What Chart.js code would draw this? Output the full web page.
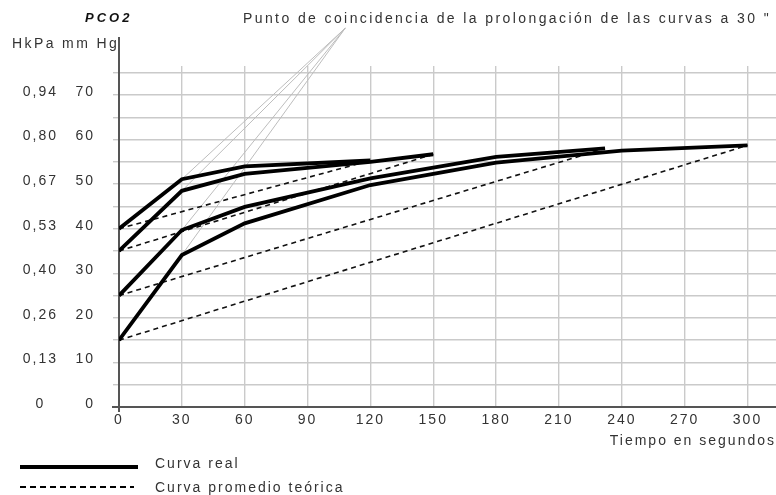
<!DOCTYPE html>
<html>
<head>
<meta charset="utf-8">
<script src="https://cdn.jsdelivr.net/npm/chart.js@4.4.1/dist/chart.umd.min.js"></script>
<style>
html,body{margin:0;padding:0;background:#fff;}
#wrap{position:relative;width:776px;height:495px;overflow:hidden;font-family:"Liberation Sans",Arial,sans-serif;color:#333;}
canvas{position:absolute;left:0;top:0;}
.t{position:absolute;white-space:nowrap;font-size:14px;line-height:16px;letter-spacing:2px;}
.solid{position:absolute;left:20px;top:465px;width:118px;height:4px;background:#000;}
.dash{position:absolute;left:20px;top:486px;width:114px;height:2px;background:repeating-linear-gradient(to right,#000 0 6px,transparent 6px 10px);}
</style>
</head>
<body>
<div id="wrap">
<canvas id="c" width="776" height="495"></canvas>
<div class="t" style="left:85px;top:10px;font-weight:bold;font-style:italic;font-size:13px;letter-spacing:3px;color:#111">PCO2</div>
<div class="t" style="left:12px;top:35px;letter-spacing:2.4px">HkPa mm Hg</div>
<div class="t" style="left:243px;top:10px;letter-spacing:2.4px">Punto de coincidencia de la prolongación de las curvas a 30 "</div>
<div class="solid"></div>
<div class="t" style="left:155px;top:455px">Curva real</div>
<div class="dash"></div>
<div class="t" style="left:155px;top:479px">Curva promedio teórica</div>
</div>
<script>
// ---- data ----
const timeA = [0, 30, 60, 120];
const pco2A = [40, 51.1, 54.0, 55.3];
const timeB = [0, 30, 60, 120, 150];
const pco2B = [35, 48.5, 52.3, 55.0, 56.7];
const timeC = [0, 30, 60, 120, 180, 232];
const pco2C = [25, 39.7, 44.9, 51.3, 56.1, 58.0];
const timeD = [0, 30, 60, 120, 180, 240, 300];
const pco2D = [15, 34.1, 41.2, 49.8, 54.8, 57.5, 58.7];
const mmHgTicks = [0, 10, 20, 30, 40, 50, 60, 70];
const kPaLabels = ['0', '0,13', '0,26', '0,40', '0,53', '0,67', '0,80', '0,94'];
const timeTicks = [0, 30, 60, 90, 120, 150, 180, 210, 240, 270, 300];
const convT = 108;   // coincidence point of the 30 s prolongations (time)
const convV = 85;    // coincidence point (mm Hg)

const curves = [[timeA, pco2A], [timeB, pco2B], [timeC, pco2C], [timeD, pco2D]];
const pts = (t, v) => t.map((x, i) => ({x: x, y: v[i]}));

const datasets = [];
// gray prolongation lines (from 30 s point to coincidence point)
curves.forEach(([t, v]) => {
  const i = t.indexOf(30);
  datasets.push({data: [{x: t[i], y: v[i]}, {x: convT, y: convV}], borderColor: '#bdbdbd', borderWidth: 1, pointRadius: 0, clip: false, order: 3});
});
// dashed theoretical average lines
curves.forEach(([t, v]) => {
  const n = t.length - 1;
  datasets.push({data: [{x: t[0], y: v[0]}, {x: t[n], y: v[n]}], borderColor: '#111', borderWidth: 1.6, borderDash: [5, 4], pointRadius: 0, order: 2});
});
// real curves
curves.forEach(([t, v]) => {
  datasets.push({data: pts(t, v), borderColor: '#000', borderWidth: 3.8, pointRadius: 0, tension: 0, order: 1});
});

Chart.defaults.font.family = '"Liberation Sans", Arial, sans-serif';
Chart.defaults.font.size = 14;
Chart.defaults.color = '#333';

const spacing = {
  id: 'spacing',
  beforeLayout(c) { c.ctx.letterSpacing = '2px'; },
  beforeDraw(c) { c.ctx.letterSpacing = '2px'; }
};
const axisExt = {
  id: 'axisExt',
  beforeDatasetsDraw(c) {
    const {ctx, chartArea: a, scales: {y}} = c;
    ctx.save();
    ctx.strokeStyle = '#555';
    ctx.lineWidth = 2;
    ctx.beginPath();
    ctx.moveTo(a.left, y.getPixelForValue(83));
    ctx.lineTo(a.left, a.bottom + 5);
    ctx.moveTo(a.left - 7, a.bottom);
    ctx.lineTo(a.left, a.bottom);
    ctx.stroke();
    ctx.restore();
  }
};

new Chart(document.getElementById('c'), {
  type: 'line',
  data: {datasets: datasets},
  plugins: [spacing, axisExt],
  options: {
    responsive: false,
    animation: false,
    layout: {padding: {top: 66, bottom: 45, left: 0, right: 0}},
    plugins: {legend: {display: false}, tooltip: {enabled: false}},
    scales: {
      x: {
        type: 'linear',
        min: 0, max: 313.6,
        afterBuildTicks(s) { s.ticks = timeTicks.map(v => ({value: v})); },
        ticks: {padding: 5, color: '#333', maxRotation: 0, autoSkip: false},
        grid: {color: '#cacaca', lineWidth: 1.4, drawTicks: false},
        border: {color: '#555', width: 2},
        title: {display: true, text: 'Tiempo en segundos', align: 'end', color: '#333', padding: {top: 0, bottom: 0}},
        afterFit(s) { s.height = 43; }
      },
      y: {
        type: 'linear',
        position: 'left',
        weight: 0,
        min: 0, max: 76.5,
        afterBuildTicks(s) { const a = []; for (let v = 0; v <= 75; v += 5) a.push({value: v}); s.ticks = a; },
        ticks: {padding: 18, labelOffset: -3, autoSkip: false, callback: v => (mmHgTicks.includes(v) ? String(v) : '')},
        grid: {color: '#cacaca', lineWidth: 1.4, tickLength: 6},
        border: {color: '#555', width: 2},
        afterFit(s) { s.width = 44; }
      },
      y2: {
        type: 'linear',
        position: 'left',
        weight: 1,
        min: 0, max: 76.5,
        afterBuildTicks(s) { s.ticks = mmHgTicks.map(v => ({value: v})); },
        ticks: {padding: 17, labelOffset: -3, crossAlign: 'center', autoSkip: false, callback: v => kPaLabels[mmHgTicks.indexOf(v)]},
        grid: {display: false, drawTicks: false},
        border: {display: false},
        afterFit(s) { s.width = 75; }
      }
    }
  }
});
</script>
</body>
</html>
